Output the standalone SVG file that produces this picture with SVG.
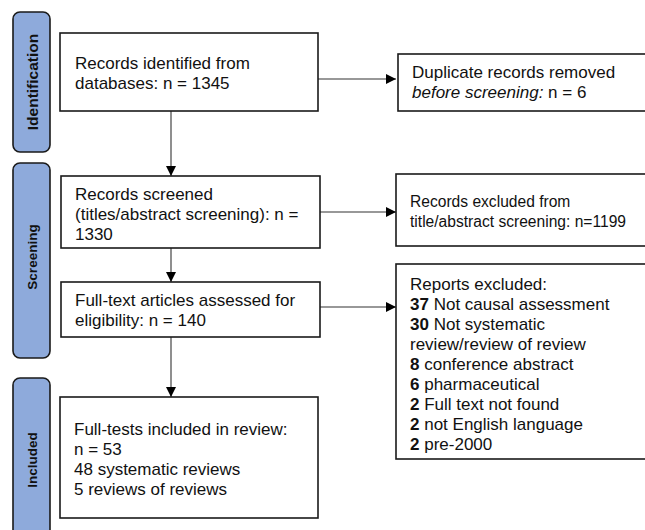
<svg xmlns="http://www.w3.org/2000/svg" width="645" height="530" viewBox="0 0 645 530">
<style>
.lab{fill:#8eaadb;stroke:#1a1a1a;stroke-width:1.6}
.box{fill:#fff;stroke:#1a1a1a;stroke-width:1.6}
.t{font-family:"Liberation Sans",Arial,sans-serif;font-size:17px;fill:#111}
.ts{font-family:"Liberation Sans",Arial,sans-serif;font-size:15.6px;fill:#111}
.lt{font-family:"Liberation Sans",Arial,sans-serif;font-weight:bold;fill:#111;text-anchor:middle}
.c{stroke:#333;stroke-width:1.1;fill:none}
</style>
<defs>
<marker id="ah" viewBox="0 0 10 10" refX="10" refY="5" markerWidth="10" markerHeight="10" markerUnits="userSpaceOnUse" orient="auto">
<path d="M0,0 L10,5 L0,10 z" fill="#000"/>
</marker>
</defs>
<g id="label-identification">
<rect class="lab" x="13" y="12" width="37" height="140" rx="7"/>
<text class="lt" font-size="15.5" transform="translate(37.5,82) rotate(-90)">Identification</text>
</g>
<g id="label-screening">
<rect class="lab" x="13" y="163" width="37" height="195" rx="7"/>
<text class="lt" font-size="13.5" transform="translate(36.5,257) rotate(-90)">Screening</text>
</g>
<g id="label-included">
<rect class="lab" x="13" y="378" width="37" height="170" rx="7"/>
<text class="lt" font-size="13.5" transform="translate(36.5,460) rotate(-90)">Included</text>
</g>
<g id="connectors">
<line class="c" x1="318" y1="79" x2="396" y2="79" marker-end="url(#ah)"/>
<line class="c" x1="171" y1="111" x2="171" y2="176" marker-end="url(#ah)"/>
<line class="c" x1="320" y1="212" x2="396" y2="212" marker-end="url(#ah)"/>
<line class="c" x1="171" y1="248" x2="171" y2="282" marker-end="url(#ah)"/>
<line class="c" x1="320" y1="307" x2="396" y2="307" marker-end="url(#ah)"/>
<line class="c" x1="171" y1="337" x2="171" y2="397" marker-end="url(#ah)"/>
</g>
<g id="node-identified">
<rect class="box" x="60" y="33" width="258" height="78"/>
<text class="t" x="75" y="69">Records identified from</text>
<text class="t" x="75" y="89">databases: n = 1345</text>
</g>
<g id="node-duplicates">
<rect class="box" x="398" y="54" width="270" height="57"/>
<text class="t" x="412" y="78">Duplicate records removed</text>
<text class="t" x="412" y="98"><tspan font-style="italic">before screening:</tspan> n = 6</text>
</g>
<g id="node-screened">
<rect class="box" x="61" y="176" width="259" height="72"/>
<text class="t" x="75" y="200">Records screened</text>
<text class="t" x="75" y="220">(titles/abstract screening): n =</text>
<text class="t" x="75" y="240">1330</text>
</g>
<g id="node-excluded-screening">
<rect class="box" x="396" y="174" width="270" height="72"/>
<text class="ts" x="410" y="207">Records excluded from</text>
<text class="ts" x="410" y="227">title/abstract screening: n=1199</text>
</g>
<g id="node-fulltext">
<rect class="box" x="61" y="282" width="259" height="55"/>
<text class="t" x="75" y="306">Full-text articles assessed for</text>
<text class="t" x="75" y="326">eligibility: n = 140</text>
</g>
<g id="node-reports-excluded">
<rect class="box" x="396" y="264" width="270" height="195"/>
<text class="t" x="410" y="290">Reports excluded:</text>
<text class="t" x="410" y="310"><tspan font-weight="bold">37</tspan> Not causal assessment</text>
<text class="t" x="410" y="330"><tspan font-weight="bold">30</tspan> Not systematic</text>
<text class="t" x="410" y="350">review/review of review</text>
<text class="t" x="410" y="370"><tspan font-weight="bold">8</tspan> conference abstract</text>
<text class="t" x="410" y="390"><tspan font-weight="bold">6</tspan> pharmaceutical</text>
<text class="t" x="410" y="410"><tspan font-weight="bold">2</tspan> Full text not found</text>
<text class="t" x="410" y="430"><tspan font-weight="bold">2</tspan> not English language</text>
<text class="t" x="410" y="450"><tspan font-weight="bold">2</tspan> pre-2000</text>
</g>
<g id="node-included">
<rect class="box" x="60" y="397" width="258" height="121"/>
<text class="t" x="74" y="435">Full-tests included in review:</text>
<text class="t" x="74" y="455">n = 53</text>
<text class="t" x="74" y="475">48 systematic reviews</text>
<text class="t" x="74" y="495">5 reviews of reviews</text>
</g>
</svg>
